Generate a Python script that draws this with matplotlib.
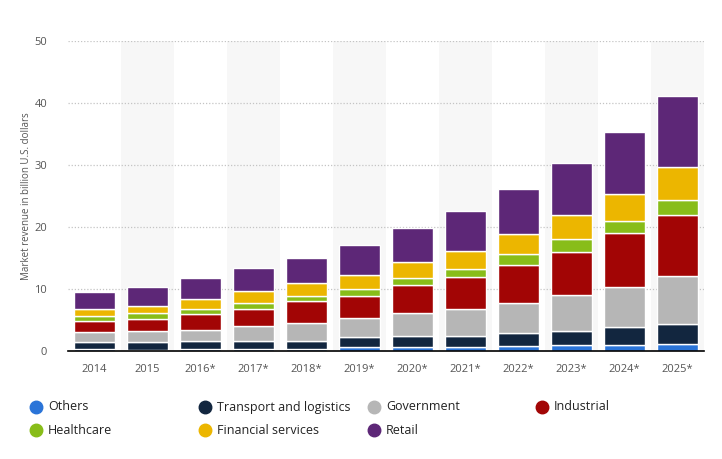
import matplotlib
matplotlib.use("Agg")
import matplotlib.pyplot as plt
from matplotlib.lines import Line2D
import numpy as np

years = ["2014", "2015", "2016*", "2017*", "2018*", "2019*", "2020*", "2021*", "2022*", "2023*", "2024*", "2025*"]
# cumulative tops, converted to segment values below
others     = [0.27, 0.22, 0.27, 0.27, 0.25, 0.65, 0.6, 0.65, 0.75, 0.9, 0.95, 1.2]
transport  = [1.13, 1.18, 1.28, 1.28, 1.41, 1.55, 1.8, 1.75, 2.1, 2.3, 2.85, 3.1]
government = [1.6, 1.8, 1.85, 2.45, 2.84, 3.1, 3.7, 4.4, 4.85, 5.8, 6.6, 7.85]
industrial = [1.9, 2.0, 2.6, 2.8, 3.5, 3.6, 4.5, 5.2, 6.1, 7.0, 8.6, 9.85]
healthcare = [0.7, 0.9, 0.8, 1.0, 0.9, 1.15, 1.1, 1.3, 1.8, 2.0, 1.9, 2.3]
financial  = [1.2, 1.2, 1.6, 1.8, 2.0, 2.25, 2.7, 2.9, 3.2, 3.9, 4.5, 5.3]
retail     = [2.7, 3.0, 3.4, 3.8, 4.1, 4.8, 5.5, 6.4, 7.3, 8.4, 10.0, 11.6]

series_names = ["Others", "Transport and logistics", "Government", "Industrial",
                "Healthcare", "Financial services", "Retail"]
series_vals = [others, transport, government, industrial, healthcare, financial, retail]
colors = ["#2a74d8", "#12263f", "#b6b6b6", "#a20505", "#88bd19", "#ecb600", "#5d2777"]

plt.rcParams['font.family'] = ['Open Sans', 'DejaVu Sans']
fig = plt.figure(figsize=(7.22, 4.59), dpi=100)
W, H = 722, 459
ax = fig.add_axes([68/W, 1 - 351/H, (704-68)/W, (351-41)/H])

x = np.arange(len(years))
ax.set_xlim(-0.5, len(years) - 0.5)
ax.set_ylim(0, 50)

# alternating background bands
for i in x:
    if i % 2 == 1:
        ax.axvspan(i - 0.5, i + 0.5, color="#f7f7f7", zorder=0, lw=0)

for yv in [10, 20, 30, 40, 50]:
    ax.axhline(yv, color="#c4c4c4", lw=0.9, ls=(0, (1, 1.5)), zorder=1)

bottom = np.zeros(len(years))
for name, vals, c in zip(series_names, series_vals, colors):
    v = np.array(vals)
    ax.bar(x, v, 0.775, bottom=bottom, color=c, edgecolor="white", linewidth=1.0, zorder=2)
    bottom += v

for s in ["top", "right", "left"]:
    ax.spines[s].set_visible(False)
ax.spines["bottom"].set_color("#000000")
ax.spines["bottom"].set_linewidth(1.2)
ax.spines["bottom"].set_zorder(3)

ax.set_xticks(x)
ax.set_xticklabels(years, fontsize=8, color="#555555")
ax.set_yticks([0, 10, 20, 30, 40, 50])
ax.set_yticklabels(["0", "10", "20", "30", "40", "50"], fontsize=8, color="#555555")
ax.tick_params(axis="both", length=0)
ax.tick_params(axis="x", pad=9)
ax.tick_params(axis="y", pad=15)

fig.text(27/W, 1 - 196/H, "Market revenue in billion U.S. dollars", rotation=90,
         ha="center", va="center", fontsize=7, color="#555555")

# legend
leg_x = [36, 205, 374, 542]
leg_rows = [407, 430]
for i, (name, c) in enumerate(zip(series_names, colors)):
    r, col = divmod(i, 4)
    cx = leg_x[col] / W
    cy = 1 - leg_rows[r] / H
    fig.add_artist(Line2D([cx], [cy], marker="o", markersize=9, color=c,
                          transform=fig.transFigure, linestyle="none"))
    fig.text(cx + 12/W, cy, name, ha="left", va="center", fontsize=9, color="#222222")

fig.savefig("out.png", dpi=100)
